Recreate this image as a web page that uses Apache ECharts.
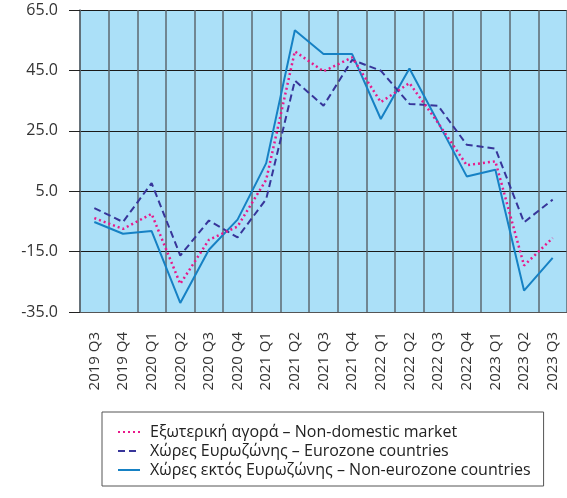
<!DOCTYPE html>
<html><head><meta charset="utf-8">
<script src="https://cdn.jsdelivr.net/npm/echarts@6/dist/echarts.min.js"></script>
<style>html,body{margin:0;padding:0;background:#fff}#c{width:567px;height:498px}</style>
</head><body><div id="c"></div>
<script>
const categories = ['2019 Q3','2019 Q4','2020 Q1','2020 Q2','2020 Q3','2020 Q4','2021 Q1','2021 Q2','2021 Q3','2021 Q4','2022 Q1','2022 Q2','2022 Q3','2022 Q4','2023 Q1','2023 Q2','2023 Q3'];
const nonDomestic = [-3.9,-7.5,-2.5,-25.7,-11.1,-6.7,8.8,51.3,44.7,49.3,34.5,40.8,27.6,13.6,14.9,-19.6,-10.5];
const eurozone = [-0.6,-5.2,7.7,-16.3,-4.7,-10.3,2.4,41.6,33.3,48.5,44.9,33.9,33.3,20.4,19.1,-5.3,2.2];
const nonEurozone = [-5.2,-9.1,-8.2,-32.0,-14.4,-4.4,14.3,58.3,50.4,50.4,28.9,45.6,27.8,9.9,12.1,-27.9,-17.1];
const seriesNames = ['Εξωτερική αγορά – Non-domestic market','Χώρες Ευρωζώνης – Eurozone countries','Χώρες εκτός Ευρωζώνης – Non-eurozone countries'];
const yTicks = {min:-35, max:65, interval:20};

const chart = echarts.init(document.getElementById('c'));
const font = 'Open Sans, Liberation Sans, sans-serif';
chart.setOption({
  animation:false,
  grid:{left:80, top:10, width:491, height:302, show:true, backgroundColor:'#abe0f8', borderWidth:0},
  xAxis:{type:'category', data:categories, boundaryGap:true,
    axisLine:{show:true, onZero:false, lineStyle:{color:'#555', width:1}},
    axisTick:{show:false},
    axisLabel:{rotate:90, margin:20, fontSize:15, color:'#333', fontFamily:font, interval:0},
    splitLine:{show:true, interval:0, lineStyle:{color:'#5c6870', width:1.5}}
  },
  yAxis:{type:'value', min:yTicks.min, max:yTicks.max, interval:yTicks.interval,
    axisLine:{show:true, lineStyle:{color:'#5c6870', width:1.5}},
    axisTick:{show:true, length:11, lineStyle:{color:'#222'}},
    axisLabel:{formatter:v=>v.toFixed(1), fontSize:16, color:'#333', fontFamily:font, margin:22},
    splitLine:{show:true, lineStyle:{color:'#1a1a1a', width:1}}
  },
  legend:{orient:'vertical', left:102, top:412, itemWidth:22, itemHeight:10, itemGap:3,
    padding:[12, 13, 8, 15], borderColor:'#555', borderWidth:1, align:'left',
    itemStyle:{opacity:0},
    textStyle:{fontSize:16, color:'#222', fontFamily:font, padding:[0,0,0,5]},
    data:seriesNames},
  series:[
    {name:seriesNames[0], type:'line', data:nonDomestic, symbol:'none', z:4,
     lineStyle:{color:'#e8198b', width:2.5, type:[2,3]}, itemStyle:{color:'#e8198b'}},
    {name:seriesNames[1], type:'line', data:eurozone, symbol:'none', z:3,
     lineStyle:{color:'#37359a', width:2, type:[7,4]}, itemStyle:{color:'#37359a'}},
    {name:seriesNames[2], type:'line', data:nonEurozone, symbol:'none', z:2,
     lineStyle:{color:'#1681c4', width:2}, itemStyle:{color:'#1681c4'}}
  ]
});
</script></body></html>
